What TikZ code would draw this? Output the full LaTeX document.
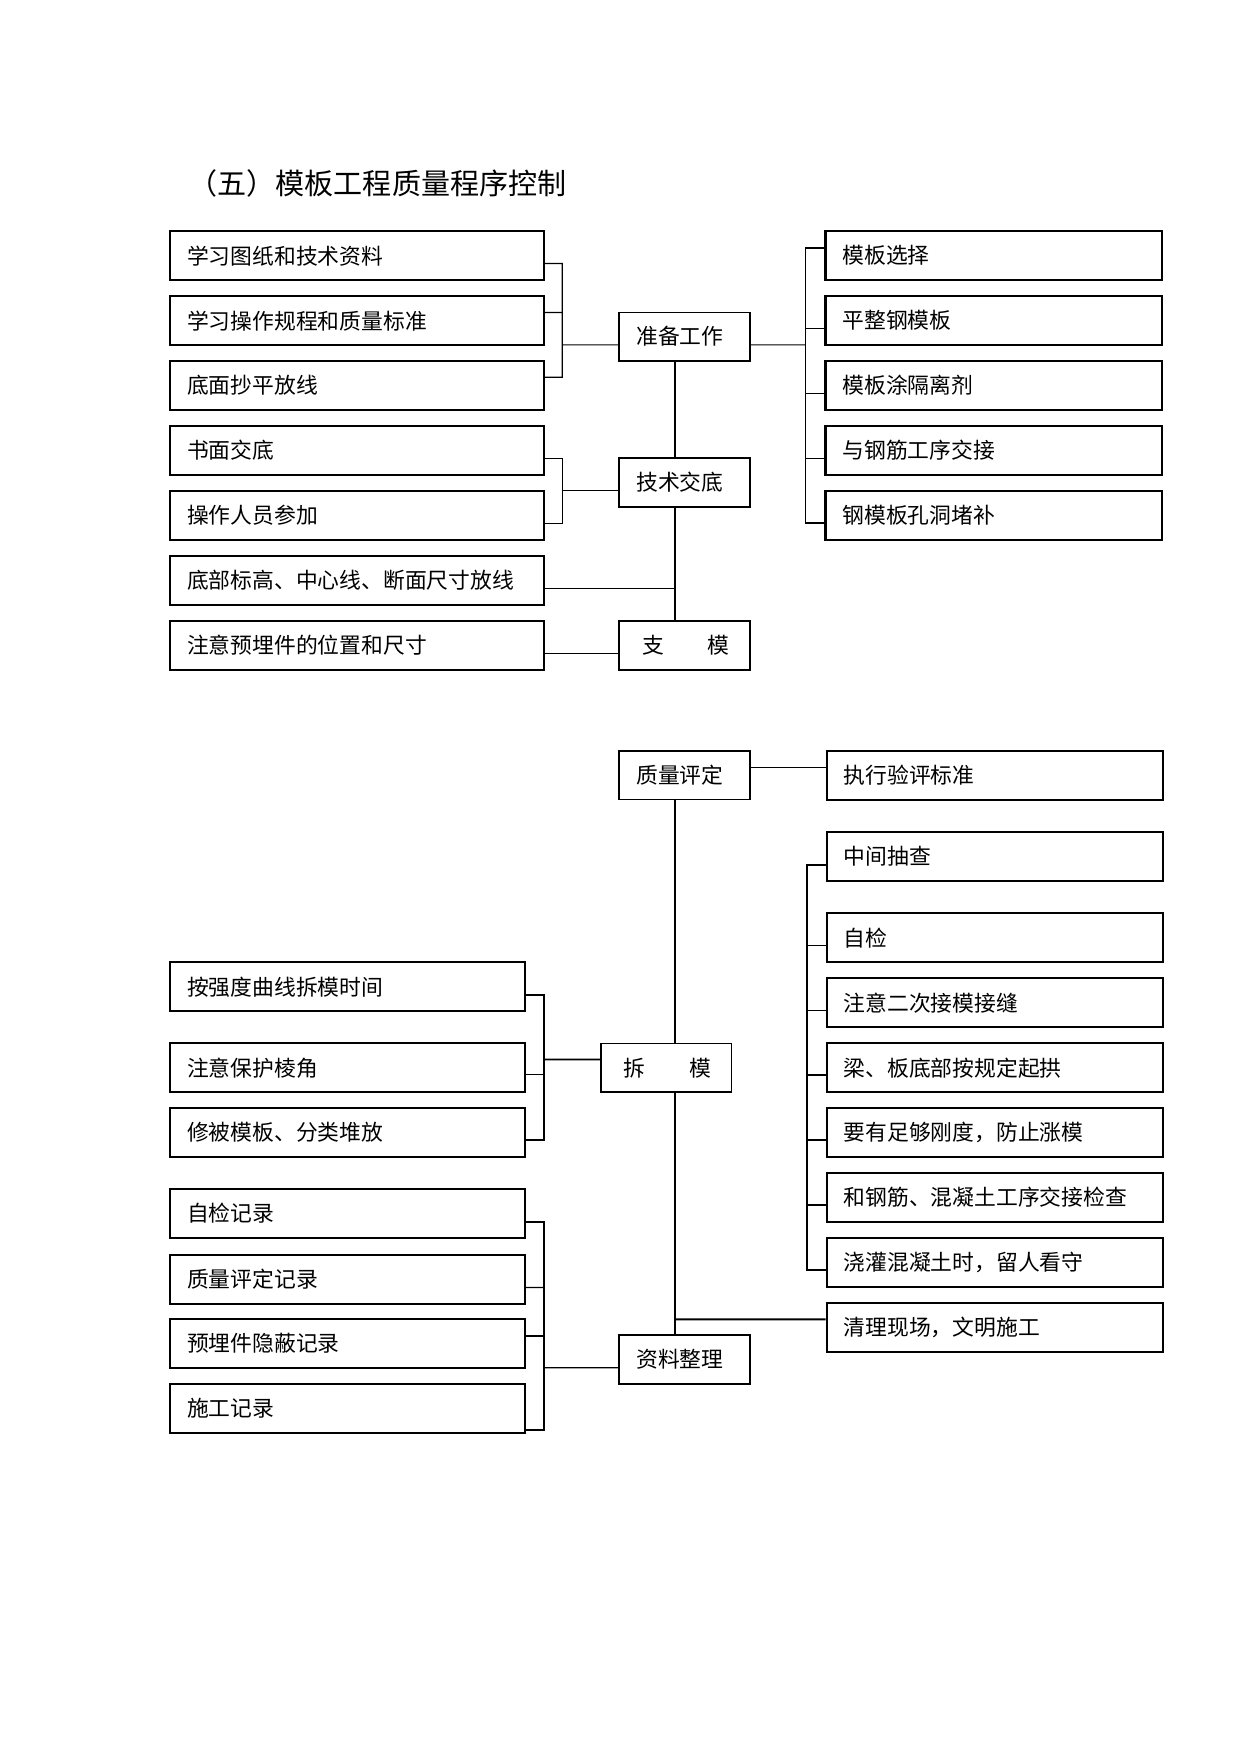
\documentclass[tikz,border=0pt]{standalone}
\usepackage{fontspec}
\setmainfont{Noto Sans CJK SC}
\usepackage{tikz}
\usetikzlibrary{positioning, calc}
\tikzstyle{link} = [line width=0.6pt, black]
\tikzstyle{trunk} = [line width=0.9pt, black]

\begin{document}
\begin{tikzpicture}[
    sidebox/.style={rectangle, draw=black, line width=1pt, minimum height=0.83cm, inner xsep=0.29cm, align=left, anchor=west, font=\fontsize{10.5}{12}\selectfont},
    wbox/.style={sidebox, text width=5.75cm},
    nbox/.style={sidebox, text width=5.43cm},
    rbox/.style={sidebox, text width=5.12cm},
    stepbox/.style={sidebox, line width=0.8pt, text width=1.63cm, minimum height=0.82cm},
]
\useasboundingbox (0,0) rectangle (21,29.7);

% Title
\node[anchor=west, font=\fontsize{14}{16}\selectfont] (title) at (3.07, 26.60) {（五）模板工程质量程序控制};

% Spine positions
\coordinate (sa) at (9.52, 0);
\coordinate (sb) at (13.64, 0);
\coordinate (tk) at (11.43, 0);
\coordinate (sc) at (13.66, 0);
\coordinate (sd) at (9.21, 0);

% Upper left column
\foreach \n/\y/\t in {a1/25.37/学习图纸和技术资料, a2/24.27/学习操作规程和质量标准, a3/23.17/底面抄平放线, a4/22.07/书面交底, a5/20.97/操作人员参加, a6/19.87/底部标高、中心线、断面尺寸放线, a7/18.77/注意预埋件的位置和尺寸} {
    \node[wbox] (\n) at (2.86, \y) {\t};
}

% Middle steps
\node[stepbox] (zb) at (10.47, 24.00) {准备工作};
\node[stepbox] (jd) at (10.47, 21.53) {技术交底};
\node[stepbox] (zm) at (10.47, 18.77) {\hspace*{0.1cm}支\qquad 模};
\node[stepbox] (pd) at (10.47, 16.57) {质量评定};
\node[stepbox] (cm) at (10.16, 11.62) {\hspace*{0.1cm}拆\qquad 模};
\node[stepbox] (zl) at (10.47, 6.68) {资料整理};

% Upper right column
\foreach \n/\y/\t in {b1/25.37/模板选择, b2/24.27/平整钢模板, b3/23.17/模板涂隔离剂, b4/22.07/与钢筋工序交接, b5/20.97/钢模板孔洞堵补} {
    \node[rbox] (\n) at (13.96, \y) {\t};
}

% Lower right column
\node[rbox] (pz) at (13.98, 16.57) {执行验评标准};
\foreach \n/\y/\t in {c1/15.20/中间抽查, c2/13.82/自检, c3/12.72/注意二次接模接缝, c4/11.62/梁、板底部按规定起拱, c5/10.52/要有足够刚度，防止涨模, c6/9.42/和钢筋、混凝土工序交接检查, c7/8.32/浇灌混凝土时，留人看守, c8/7.22/清理现场，文明施工} {
    \node[rbox] (\n) at (13.98, \y) {\t};
}

% Lower left column
\foreach \n/\y/\t in {d1/12.99/按强度曲线拆模时间, d2/11.62/注意保护棱角, d3/10.52/修被模板、分类堆放, e1/9.15/自检记录, e2/8.04/质量评定记录, e3/6.95/预埋件隐蔽记录, e4/5.85/施工记录} {
    \node[nbox] (\n) at (2.86, \y) {\t};
}

% Trunk
\draw[trunk] (zb.south -| tk) -- (jd.north -| tk);
\draw[trunk] (jd.south -| tk) -- (zm.north -| tk);
\draw[trunk] (pd.south -| tk) -- (cm.north -| tk);
\draw[trunk] (cm.south -| tk) -- (zl.north -| tk);

% Preparation bracket
\draw[link] ([yshift=-0.13cm]a1.east) -| ($(a3.east -| sa)+(0,0.14)$) -- ([yshift=0.14cm]a3.east);
\draw[link] ([yshift=0.14cm]a2.east) -- ($(a2.east -| sa)+(0,0.14)$);
\draw[link] ($(zb.west -| sa)+(0,-0.14)$) -- ([yshift=-0.14cm]zb.west);

% Briefing bracket
\draw[link] ([yshift=-0.13cm]a4.east) -| ($(a5.east -| sa)+(0,-0.13)$) -- ([yshift=-0.13cm]a5.east);
\draw[link] ($(jd.west -| sa)+(0,-0.13)$) -- ([yshift=-0.13cm]jd.west);
\draw[link] ([yshift=-0.13cm]a6.east) -- ($(a6.east -| tk)+(0,-0.13)$);
\draw[link] ([yshift=-0.13cm]a7.east) -- ([yshift=-0.13cm]zm.west);

% Preparation items
\draw[link] ([yshift=-0.14cm]zb.east) -- ($(zb.east -| sb)+(0,-0.14)$);
\draw[trunk] ([yshift=0.13cm]b1.west) -| ($(b5.west -| sb)+(0,-0.13)$) -- ([yshift=-0.13cm]b5.west);
\foreach \n in {b2, b3, b4} {
    \draw[link] ([yshift=-0.13cm]\n.west) -- ($(\n.west -| sb)+(0,-0.13)$);
}

% Quality check
\draw[link] ([yshift=0.14cm]pd.east) -- ([yshift=0.14cm]pz.west);
\draw[trunk] ($(c8.west -| tk)+(0,0.14)$) -- ([yshift=0.14cm]c8.west);

% Removal checks
\draw[trunk] ([yshift=-0.14cm]c1.west) -| ($(c7.west -| sc)+(0,-0.13)$) -- ([yshift=-0.13cm]c7.west);
\foreach \n in {c2, c3, c4, c5, c6} {
    \draw[trunk] ([yshift=-0.13cm]\n.west) -- ($(\n.west -| sc)+(0,-0.13)$);
}

% Removal bracket
\draw[trunk] ([yshift=-0.14cm]d1.east) -| ($(d3.east -| sd)+(0,-0.12)$) -- ([yshift=-0.12cm]d3.east);
\draw[link] ([yshift=-0.12cm]d2.east) -- ($(d2.east -| sd)+(0,-0.12)$);
\draw[trunk] ($(cm.west -| sd)+(0,0.14)$) -- ([yshift=0.14cm]cm.west);

% Records bracket
\draw[trunk] ([yshift=-0.14cm]e1.east) -| ($(e4.east -| sd)+(0,-0.36)$) -- ([yshift=-0.36cm]e4.east);
\draw[link] ([yshift=-0.14cm]e2.east) -- ($(e2.east -| sd)+(0,-0.14)$);
\draw[trunk] ([yshift=0.13cm]e3.east) -- ($(e3.east -| sd)+(0,0.13)$);
\draw[link] ($(zl.west -| sd)+(0,-0.14)$) -- ([yshift=-0.14cm]zl.west);

\end{tikzpicture}
\end{document}
